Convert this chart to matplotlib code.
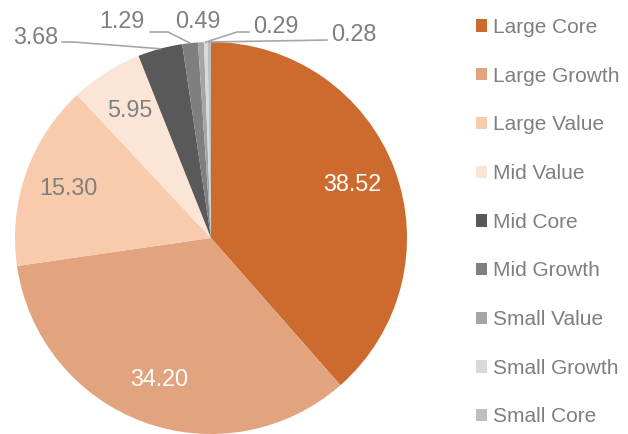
import matplotlib
matplotlib.use('Agg')
import matplotlib.pyplot as plt
import numpy as np

plt.rcParams['font.family'] = ['Liberation Sans', 'DejaVu Sans']

# Данные
categories = ['Large Core', 'Large Growth', 'Large Value', 'Mid Value', 'Mid Core',
              'Mid Growth', 'Small Value', 'Small Growth', 'Small Core']
values = [38.52, 34.20, 15.30, 5.95, 3.68, 1.29, 0.49, 0.29, 0.28]
colors = ['#CD6A2E', '#E2A47E', '#F8CBAD', '#FBE5D6', '#595959',
          '#7F7F7F', '#A5A5A5', '#D9D9D9', '#BFBFBF']

TEXT_GRAY = '#7F7F7F'
LEADER = '#A6A6A6'

# подписи внутри сектора: индекс -> цвет текста
inside = {0: 'white', 1: 'white', 2: TEXT_GRAY, 3: TEXT_GRAY}
# подписи снаружи: позиция текста и точки выноски (в координатах осей)
outside = {
    4: dict(xy=(-0.78, 1.022), ha='right', path=[(-0.760, 1.0), (-0.704, 1.0)]),
    5: dict(xy=(-0.34, 1.104), ha='right', path=[(-0.311, 1.051), (-0.219, 1.051)]),
    6: dict(xy=(-0.066, 1.104), ha='center', path=None),
    7: dict(xy=(0.215, 1.08), ha='left', path=[(0.194, 1.051), (0.133, 1.051)]),
    8: dict(xy=(0.614, 1.04), ha='left', path=[(0.592, 1.010)]),
}

fig = plt.figure(figsize=(6.28, 4.34), dpi=100, facecolor='white')
ax = fig.add_axes([15 / 628, 0.0, 392 / 628, 392 / 434])

wedges, _ = ax.pie(values, colors=colors, startangle=90, counterclock=False,
                   radius=1.0, wedgeprops=dict(linewidth=0))
ax.set_xlim(-1, 1)
ax.set_ylim(-1, 1)
ax.set_aspect('equal')
ax.axis('off')

for i, (w, v) in enumerate(zip(wedges, values)):
    mid = np.deg2rad((w.theta1 + w.theta2) / 2)
    label = f"{v:.2f}"
    if i in inside:
        r = 0.77
        ax.text(r * np.cos(mid), r * np.sin(mid), label, ha='center', va='center',
                fontsize=16.8, color=inside[i])
    else:
        o = outside[i]
        ax.text(o['xy'][0], o['xy'][1], label, ha=o['ha'], va='center',
                fontsize=16.8, color=TEXT_GRAY, clip_on=False)
        if o['path']:
            pts = o['path'] + [(np.cos(mid), np.sin(mid))]
            xs, ys = zip(*pts)
            ax.plot(xs, ys, color=LEADER, linewidth=1.2, clip_on=False)

handles = [plt.Rectangle((0, 0), 1, 1, facecolor=c, edgecolor='none') for c in colors]
leg = fig.legend(handles, categories, loc='upper left',
                 bbox_to_anchor=(476 / 628, 1 - 18 / 434), frameon=False,
                 fontsize=15, handlelength=0.53, handleheight=0.53,
                 handletextpad=0.28, labelspacing=1.425, borderpad=0, borderaxespad=0)
for t in leg.get_texts():
    t.set_color(TEXT_GRAY)

fig.savefig('out.png', dpi=100, facecolor='white')
